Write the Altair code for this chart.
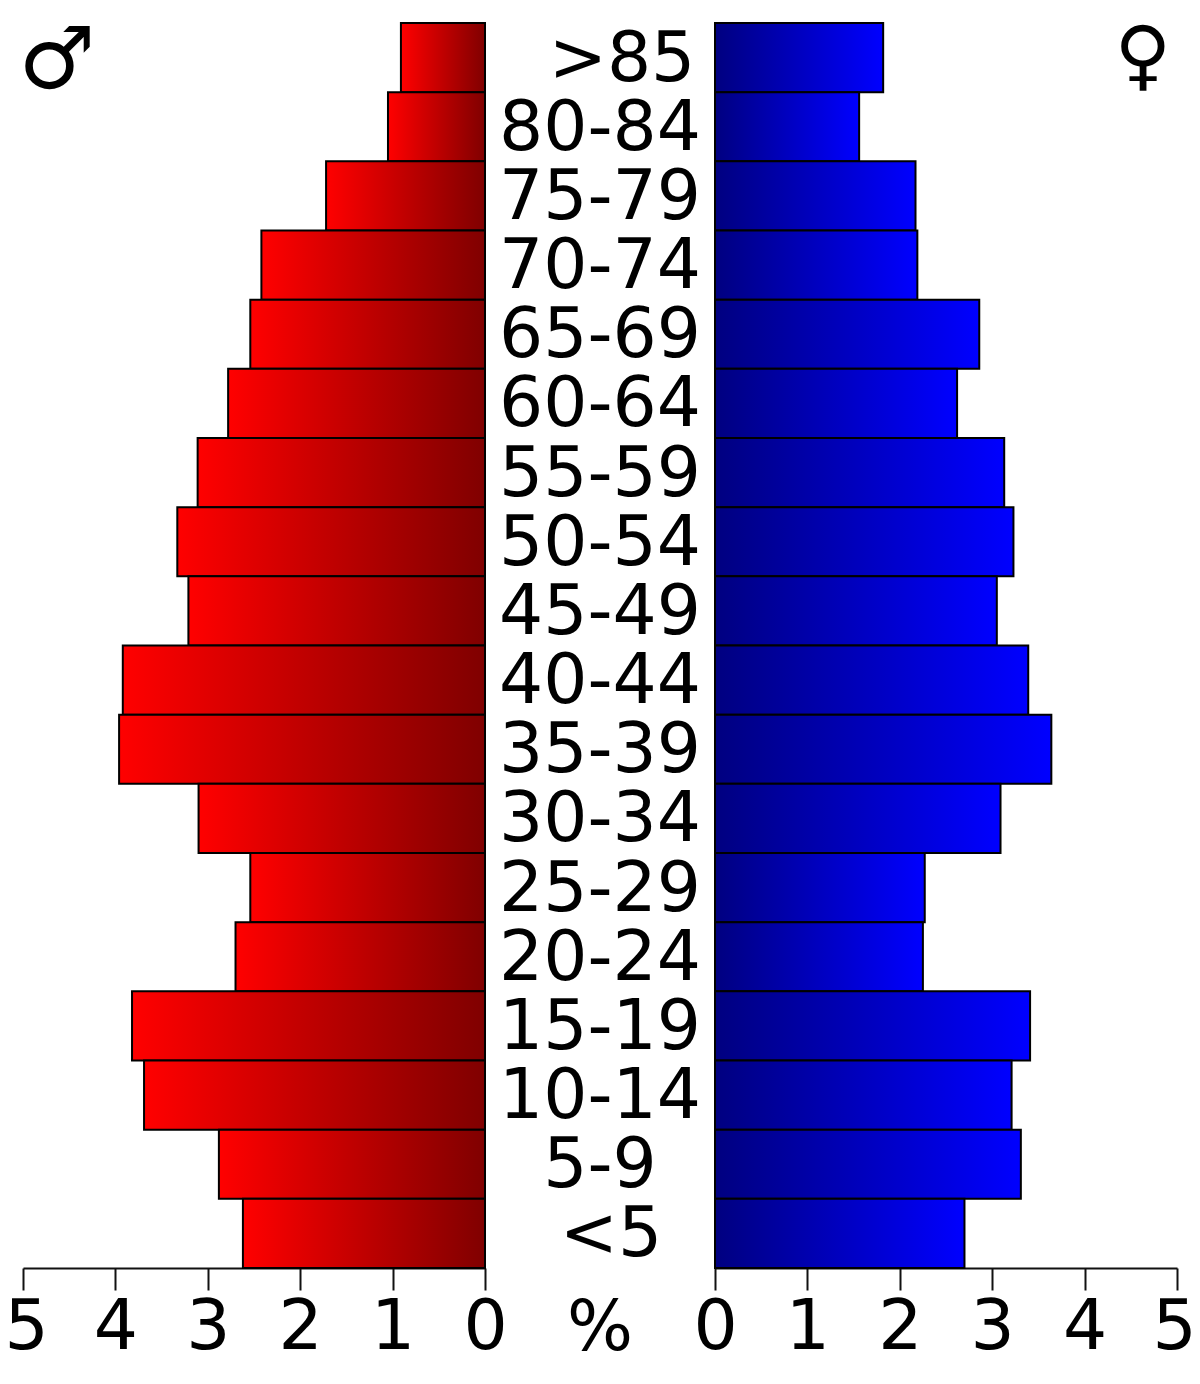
import altair as alt
import pandas as pd

ages = [">85", "80-84", "75-79", "70-74", "65-69", "60-64", "55-59", "50-54", "45-49",
        "40-44", "35-39", "30-34", "25-29", "20-24", "15-19", "10-14", "5-9", "<5"]
male = [0.91, 1.05, 1.72, 2.42, 2.54, 2.78, 3.11, 3.33, 3.21,
        3.92, 3.96, 3.10, 2.54, 2.70, 3.82, 3.69, 2.88, 2.62]
female = [1.82, 1.56, 2.17, 2.19, 2.86, 2.62, 3.13, 3.23, 3.05,
          3.39, 3.64, 3.09, 2.27, 2.25, 3.41, 3.21, 3.31, 2.70]
ticks = [0, 1, 2, 3, 4, 5]

df = pd.DataFrame({"age": ages, "male": male, "female": female, "zero": 0})
FONT = "DejaVu Sans"
FS = 69.5

y = alt.Y("age:N", sort=ages, axis=None,
          scale=alt.Scale(domain=ages, paddingInner=0, paddingOuter=0))


def axis(edge_shift):
    return alt.Axis(values=ticks, orient="bottom", title=None, grid=False, format="d",
                    tickSize=22, tickWidth=2, tickColor="#111", domainWidth=2, domainColor="#111",
                    labelFont=FONT, labelFontSize=FS, labelColor="black", labelPadding=3,
                    labelFlush=False, labelOverlap=False,
                    labelOffset={"condition": {"test": "datum.value == 5", "value": edge_shift}, "value": 0})


def grad(a, b):
    return alt.LinearGradient(gradient="linear", x1=0, x2=1, y1=0, y2=0,
                              stops=[alt.GradientStop(offset=0, color=a),
                                     alt.GradientStop(offset=1, color=b)])


left = alt.Chart(df).mark_bar(color=grad("#ff0000", "#800000"), stroke="black", strokeWidth=2).encode(
    x=alt.X("male:Q", stack=None, axis=axis(3), scale=alt.Scale(domain=[5, 0], range=[0, 462])),
    x2="zero:Q",
    y=y,
)
right = alt.Chart(df).mark_bar(color=grad("#000080", "#0000ff"), stroke="black", strokeWidth=2).encode(
    x=alt.X("female:Q", stack=None, axis=axis(-3), scale=alt.Scale(domain=[0, 5], range=[692, 1154])),
    x2="zero:Q",
    y=y,
)

center_ages = [a for a in ages if a not in (">85", "<5")]
def age_text(labels, px):
    return alt.Chart(pd.DataFrame({"age": labels})).mark_text(
        font=FONT, fontSize=FS, color="black", baseline="middle", align="center", dy=2
    ).encode(x=alt.value(px), y=y, text="age:N")

labels = age_text(center_ages, 577) + age_text([">85"], 599) + age_text(["<5"], 588)

def note(text, px, py, size):
    return alt.Chart(pd.DataFrame({"t": [text]})).mark_text(
        font=FONT, fontSize=size, color="black", baseline="alphabetic", align="center"
    ).encode(x=alt.value(px), y=alt.value(py), text="t:N")

notes = note("%", 577, 1327, FS) + note("\u2642", 34, 65, 86) + note("\u2640", 1120, 58, 77)

chart = alt.layer(left, right, labels, notes).resolve_scale(x="independent").properties(
    width=1154, height=1245,
    autosize=alt.AutoSizeParams(type="none"),
    padding={"left": 15, "top": 15, "right": 15, "bottom": 96},
).configure_view(stroke=None)

chart.save("out.html", embed_options={"renderer": "svg", "actions": False})
